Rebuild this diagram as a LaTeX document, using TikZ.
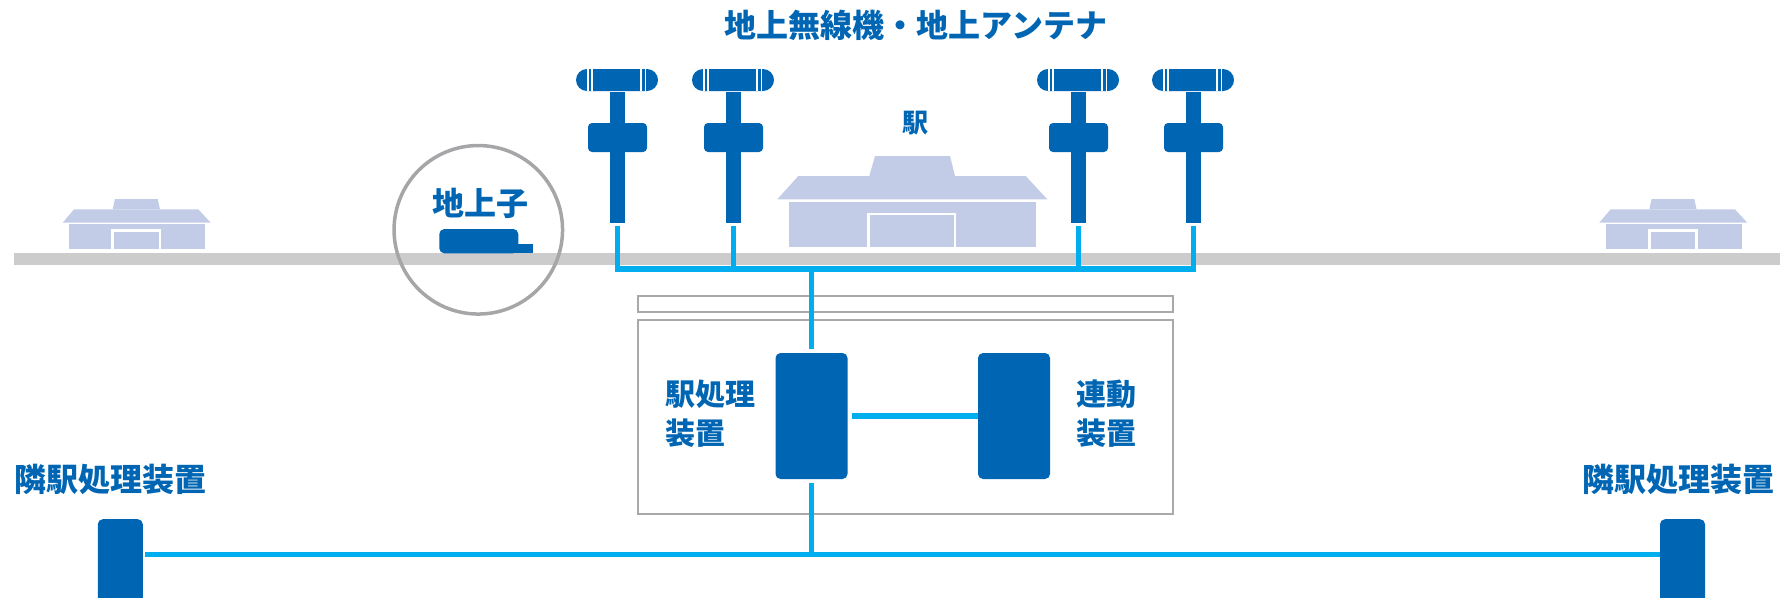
\documentclass[tikz,border=0pt]{standalone}
\usepackage{fontspec}
\newfontfamily\jp{Noto Sans CJK JP}
\usepackage{xcolor}
\definecolor{dkblue}{HTML}{0066B3}
\definecolor{lnblue}{HTML}{00AEEF}
\definecolor{bldg}{HTML}{C2CCE6}
\definecolor{rail}{HTML}{CCCCCC}
\definecolor{rim}{HTML}{A6A6A9}
\definecolor{frame}{HTML}{A9A9AB}

\begin{document}
\begin{tikzpicture}[x=1pt, y=-1pt,
  lbl/.style={text=dkblue, inner sep=0pt,
              font=\jp\bfseries\fontsize{32}{38}\selectfont},
  sub/.style={lbl, align=left, anchor=west,
              font=\jp\bfseries\fontsize{30}{39}\selectfont},
  blk/.style={fill=dkblue, rounded corners=5pt, inner sep=0pt,
              minimum width=72pt, minimum height=126pt},
  nb/.style={blk, minimum width=45pt, minimum height=100pt, anchor=north},
  mast/.style={fill=dkblue, inner sep=0pt, minimum width=15pt,
               minimum height=130.5pt},
  pnl/.style={draw=frame, line width=2pt, inner sep=0pt, minimum width=535pt},
  lnk/.style={draw=lnblue, line width=5.5pt},
  door/.style={fill=bldg, draw=white, line width=2.5pt}]

\useasboundingbox (0,0) rectangle (1780,597);
\clip (0,0) rectangle (1780,597);

% 隣の駅舎(左右同形)
\foreach \dx in {0, 1536.6} {
  \begin{scope}[xshift=\dx]
    \fill[bldg] (112.7,209.3) -- (115,199) -- (157.7,199) -- (160,209.3) -- cycle;
    \fill[bldg] (62.7,222.7) -- (74,209.3) -- (198.3,209.3) -- (210.7,222.7) -- cycle;
    \fill[bldg] (69.3,224) rectangle (205,249);
    \draw[door] (112.7,230.7) rectangle (160,250.5);
  \end{scope}
}

% 駅舎
\node[lbl, font=\jp\bfseries\fontsize{26}{30}\selectfont] (eki) at (915,123) {駅};
\fill[bldg] (869.3,176) -- (875,156) -- (950,156) -- (955,176) -- cycle;
\fill[bldg] (777.3,199.3) -- (798.3,176) -- (1025.7,176) -- (1047.3,199.3) -- cycle;
\fill[bldg] (789.3,201.7) rectangle (1036,246.7);
\draw[door] (868.3,214) rectangle (955,248.2);

% 線路
\fill[rail] (13.6,253) rectangle (1780,264.5);

% 地上子
\node[draw=rim, line width=3.5pt, circle, minimum size=168.5pt, inner sep=0pt]
  (tag) at (478.3,229.8) {};
\node[lbl] (tagt) at (480.5,203) {地上子};
\fill[dkblue, rounded corners=5pt] (439.3,229) rectangle (518.3,253.3);
\fill[dkblue] (510,244) rectangle (532.7,253.3);

% 地上無線機・地上アンテナ
\node[lbl] (ttl) at (916,25) {地上無線機・地上アンテナ};
\foreach \n/\cx in {1/617.5, 2/733.5, 3/1078.5, 4/1193.5} {
  \fill[dkblue, rounded corners=11pt] (\cx-41.5,69) rectangle (\cx+40.5,91);
  \foreach \s in {-29.5,-25.5,23.5,28} {
    \draw[white, line width=1.3pt] (\cx+\s,69) -- (\cx+\s,91);
  }
  \node[mast] (a\n) at (\cx,157.25) {};
  \fill[dkblue, rounded corners=4pt] (\cx-29.5,123) rectangle (\cx+29.5,152);
}

% 駅処理装置・連動装置
\node[pnl, minimum height=16pt] (hdr) at (905.5,304) {};
\node[pnl, minimum height=194pt] (cab) at (905.5,417) {};
\node[blk] (proc) at (811.5,416) {};
\node[blk] (ilk) at (1014,416) {};
\node[sub] (proct) at (665,413.5) {駅処理\\装置};
\node[sub] (ilkt) at (1076,413.5) {連動\\装置};

% 隣駅処理装置
\node[nb] (nbL) at (120.3,519) {};
\node[nb] (nbR) at (1682.5,519) {};
\node[lbl] (nbLt) at (110,479) {隣駅処理装置};
\node[lbl] (nbRt) at (1678,479) {隣駅処理装置};

% 伝送路
\coordinate (abus) at (811.5,269);
\coordinate (bus) at (811.5,554.5);
\draw[lnk, shorten <=3.5pt, shorten >=3.5pt]
  (a1.south) -- (a1.south |- abus) -- (a4.south |- abus) -- (a4.south);
\foreach \n in {2,3} {
  \draw[lnk, shorten <=3.5pt] (a\n.south) -- (a\n.south |- abus);
}
\draw[lnk, shorten >=4pt] (abus) -- (proc.north);
\draw[lnk, shorten <=4pt] (proc.south) -- (bus);
\draw[lnk, shorten <=4pt] (proc.east) -- (ilk.west);
\draw[lnk, shorten <=2pt] (bus -| nbL.east) -- (bus -| nbR.west);
\end{tikzpicture}
\end{document}
